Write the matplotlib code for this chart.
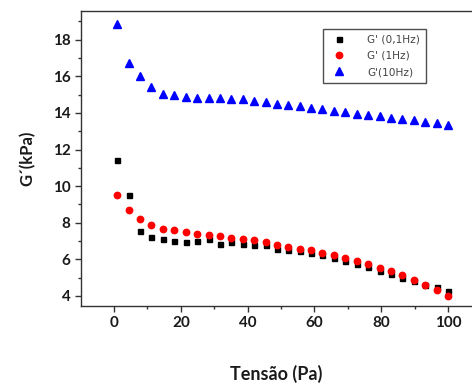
import matplotlib.pyplot as plt
from matplotlib.ticker import MultipleLocator

# tensao (Pa), common to the three series
tensao = [1.0, 4.4, 7.8, 11.2, 14.7, 18.1, 21.5, 24.9, 28.3, 31.7,
          35.1, 38.6, 42.0, 45.4, 48.8, 52.2, 55.6, 59.0, 62.4, 65.9,
          69.3, 72.7, 76.1, 79.5, 82.9, 86.3, 89.8, 93.2, 96.6, 100.0]

g_01hz = [11.42, 9.49, 7.54, 7.23, 7.09, 7.00, 6.94, 7.00, 7.09, 6.84,
          6.94, 6.86, 6.77, 6.77, 6.59, 6.52, 6.48, 6.32, 6.21, 6.06,
          5.91, 5.77, 5.59, 5.37, 5.19, 4.98, 4.80, 4.60, 4.49, 4.26]

g_1hz = [9.52, 8.67, 8.19, 7.90, 7.65, 7.58, 7.48, 7.41, 7.34, 7.26,
         7.19, 7.10, 7.03, 6.94, 6.81, 6.70, 6.59, 6.50, 6.35, 6.24,
         6.10, 5.93, 5.77, 5.53, 5.35, 5.13, 4.86, 4.62, 4.31, 4.00]

g_10hz = [18.86, 16.71, 16.00, 15.43, 15.05, 14.98, 14.88, 14.83, 14.83, 14.83,
          14.74, 14.74, 14.67, 14.59, 14.48, 14.41, 14.36, 14.28, 14.19, 14.12,
          14.03, 13.94, 13.87, 13.81, 13.74, 13.66, 13.59, 13.51, 13.43, 13.35]

labels = ["G' (0,1Hz)", "G' (1Hz)", "G'(10Hz)"]

fnt = 'Lato'

fig = plt.figure(figsize=(4.72, 3.87), dpi=100)
ax = fig.add_axes([0.1716, 0.2093, 0.8284, 0.7623])

ax.plot(tensao, g_01hz, 's', color='black', ms=3.6, label=labels[0])
ax.plot(tensao, g_1hz, 'o', color='#ff0000', ms=4.6, label=labels[1])
ax.plot(tensao, g_10hz, '^', color='#0000ff', ms=6, label=labels[2])

ax.set_xlim(-9.9, 107.2)
ax.set_ylim(3.45, 19.57)
ax.xaxis.set_major_locator(MultipleLocator(20))
ax.xaxis.set_minor_locator(MultipleLocator(10))
ax.yaxis.set_major_locator(MultipleLocator(2))
ax.yaxis.set_minor_locator(MultipleLocator(1))

for s in ['left', 'bottom', 'top']:
    ax.spines[s].set_color('#333333')
    ax.spines[s].set_linewidth(1.0)
ax.spines['right'].set_visible(False)

ax.tick_params(which='major', direction='out', length=4, width=1, color='#333333')
ax.tick_params(which='minor', direction='out', length=2.5, width=1, color='#333333')
ax.tick_params(top=False, right=False, which='both')
for lab in ax.get_xticklabels() + ax.get_yticklabels():
    lab.set_fontfamily(fnt)
    lab.set_fontweight('bold')
    lab.set_fontsize(11)
    lab.set_color('#1a1a1a')

ax.set_xlabel('Tensão (Pa)', fontfamily=fnt, fontweight='bold', fontsize=13,
              color='#1a1a1a', labelpad=25)
ax.set_ylabel('G´(kPa)', fontfamily=fnt, fontweight='bold', fontsize=12,
              color='#1a1a1a', labelpad=12)

leg = ax.legend(loc='upper left', bbox_to_anchor=(0.62, 0.94),
                prop={'family': 'DejaVu Sans', 'size': 7.6},
                frameon=True, fancybox=False, handletextpad=1.8,
                labelspacing=0.6, borderpad=0.55, borderaxespad=0.0,
                handlelength=1.8)
leg.get_frame().set_edgecolor('#222222')
leg.get_frame().set_linewidth(1.0)
for t in leg.get_texts():
    t.set_color('#444444')

fig.savefig('out.png', dpi=100)
